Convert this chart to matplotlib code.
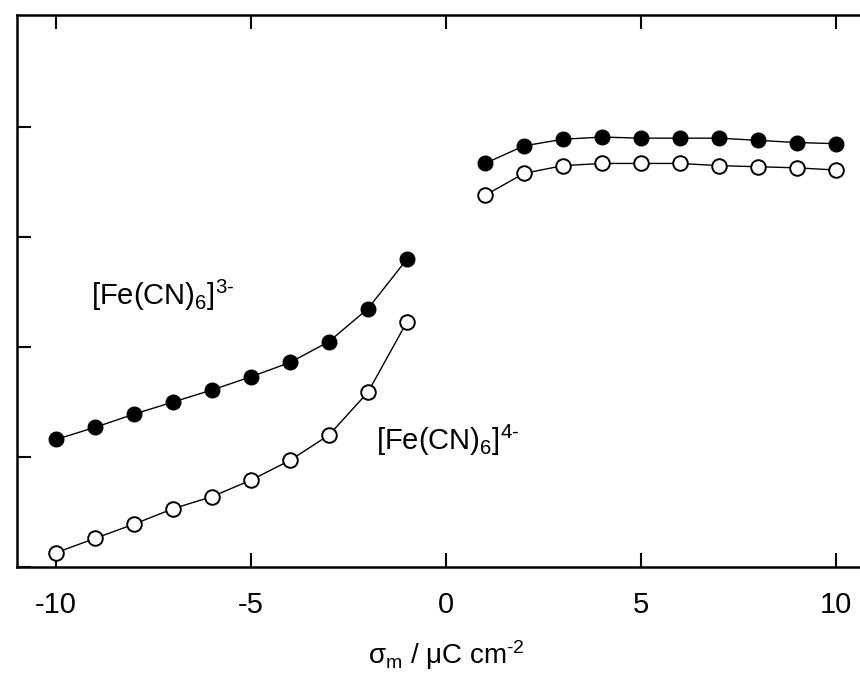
import matplotlib
matplotlib.use("Agg")
import matplotlib.pyplot as plt

plt.rcParams["font.family"] = ["Liberation Sans", "DejaVu Sans"]
plt.rcParams["mathtext.fontset"] = "custom"
plt.rcParams["mathtext.rm"] = "Liberation Sans"
plt.rcParams["mathtext.it"] = "Liberation Sans:italic"
plt.rcParams["axes.unicode_minus"] = False

# -----------------------------
# data (arbitrary y units)
# -----------------------------
x_neg = [-10, -9, -8, -7, -6, -5, -4, -3, -2, -1]
x_pos = [1, 2, 3, 4, 5, 6, 7, 8, 9, 10]

fe3_neg = [1.16, 1.27, 1.39, 1.50, 1.61, 1.73, 1.86, 2.05, 2.35, 2.80]
fe4_neg = [0.13, 0.26, 0.39, 0.53, 0.64, 0.79, 0.97, 1.20, 1.59, 2.23]
fe3_pos = [3.67, 3.83, 3.89, 3.91, 3.90, 3.90, 3.90, 3.88, 3.86, 3.85]
fe4_pos = [3.38, 3.58, 3.65, 3.67, 3.67, 3.67, 3.65, 3.64, 3.63, 3.61]

x_ticks = [-10, -5, 0, 5, 10]
y_ticks = [0, 1, 2, 3, 4]

fig = plt.figure(figsize=(8.6, 6.77), dpi=100)
ax = fig.add_axes([17 / 860, 110 / 677, 858 / 860, 552 / 677])

for xs, ys in [(x_neg, fe3_neg), (x_pos, fe3_pos)]:
    ax.plot(xs, ys, "-o", color="black", lw=1.0, ms=10.5,
            mfc="black", mec="black")
for xs, ys in [(x_neg, fe4_neg), (x_pos, fe4_pos)]:
    ax.plot(xs, ys, "-o", color="black", lw=1.0, ms=10.5,
            mfc="white", mec="black", mew=1.4)

ax.text(-9.1, 2.47, r"[Fe(CN)$_\mathregular{6}$]$^{\text{3-}}$",
        fontsize=21, va="center", ha="left")
ax.text(-1.8, 1.15, r"[Fe(CN)$_\mathregular{6}$]$^{\text{4-}}$",
        fontsize=21, va="center", ha="left")

ax.set_xlim(-11, 11)
ax.set_ylim(0, 5.02)
ax.set_xticks(x_ticks)
ax.set_yticks(y_ticks)
ax.set_yticklabels([])
ax.tick_params(direction="in", length=10, width=1.5, top=True, right=True,
               labelsize=21, pad=17)
for s in ax.spines.values():
    s.set_linewidth(1.8)

ax.set_xlabel(r"σ$_\mathregular{m}$ / μC cm$^{\text{-2}}$", fontsize=20,
              labelpad=14)

fig.savefig("out.png", dpi=100)
